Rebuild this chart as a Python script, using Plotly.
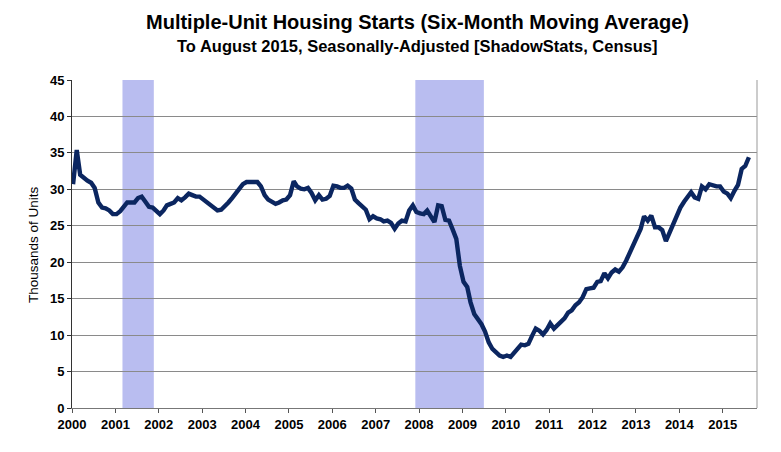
import plotly.graph_objects as go
import pandas as pd

# Monthly values, Jan 2000 .. Aug 2015 (thousands of units)
v2000 = [30.7, 35.4, 32.0, 31.5, 31.2, 30.9, 30.2, 28.2, 27.5, 27.4, 27.1, 26.6]
v2001 = [26.6, 27.0, 27.7, 28.2, 28.2, 28.2, 28.8, 29.0, 28.3, 27.6, 27.5, 27.0]
v2002 = [26.6, 27.1, 27.8, 28.0, 28.2, 28.8, 28.5, 28.9, 29.4, 29.2, 29.0, 29.0]
v2003 = [28.6, 28.3, 27.8, 27.4, 27.1, 27.2, 27.8, 28.2, 28.8, 29.4, 30.1, 30.7]
v2004 = [31.0, 31.0, 31.1, 31.0, 30.4, 29.2, 28.6, 28.3, 28.0, 28.2, 28.5, 28.6]
v2005 = [29.2, 31.1, 30.4, 30.1, 30.0, 30.2, 29.5, 28.5, 29.2, 28.6, 28.7, 29.1]
v2006 = [30.5, 30.4, 30.2, 30.2, 30.5, 30.1, 28.6, 28.1, 27.6, 27.2, 25.9, 26.3]
v2007 = [26.0, 25.9, 25.6, 25.7, 25.4, 24.6, 25.3, 25.7, 25.6, 27.1, 27.8, 26.9]
v2008 = [26.7, 26.6, 27.1, 26.4, 25.5, 27.8, 27.7, 25.8, 25.7, 24.5, 23.2, 19.5]
v2009 = [17.3, 16.6, 14.5, 12.9, 12.3, 11.5, 10.5, 9.0, 8.1, 7.6, 7.2, 7.0]
v2010 = [7.2, 7.0, 7.5, 8.2, 8.7, 8.6, 8.8, 9.9, 10.9, 10.6, 10.1, 10.7]
v2011 = [11.6, 10.9, 11.3, 11.7, 12.3, 13.1, 13.4, 14.1, 14.5, 15.2, 16.3, 16.4]
v2012 = [16.5, 17.3, 17.4, 18.5, 17.8, 18.6, 19.0, 18.7, 19.3, 20.2, 21.3, 22.4]
v2013 = [23.2, 24.6, 26.3, 25.7, 26.4, 24.8, 24.8, 24.4, 22.9, 24.1, 25.2, 26.5]
v2014 = [27.5, 28.3, 29.0, 29.6, 28.9, 28.7, 30.4, 30.0, 30.7, 30.5, 30.4, 30.4]
v2015 = [29.7, 29.4, 28.8, 29.8, 30.6, 32.8, 33.2, 34.4]

values = (v2000 + v2001 + v2002 + v2003 + v2004 + v2005 + v2006 + v2007 +
          v2008 + v2009 + v2010 + v2011 + v2012 + v2013 + v2014 + v2015)
dates = pd.date_range("2000-01-01", periods=len(values), freq="MS") + pd.Timedelta(days=9)

recessions = [("2001-03-01", "2001-11-20"), ("2007-12-01", "2009-06-30")]
y_ticks = [0, 5, 10, 15, 20, 25, 30, 35, 40, 45]

title = "Multiple-Unit Housing Starts (Six-Month Moving Average)"
subtitle = "To August 2015, Seasonally-Adjusted [ShadowStats, Census]"
y_title = "Thousands of Units"

FONT = "Liberation Sans, Arial, sans-serif"

fig = go.Figure()
fig.add_trace(go.Scatter(
    x=dates, y=values, mode="lines",
    line=dict(color="#0b2660", width=4.4),
    hoverinfo="skip", showlegend=False,
))

for x0, x1 in recessions:
    fig.add_shape(type="rect", xref="x", yref="y", x0=x0, x1=x1, y0=0, y1=45,
                  fillcolor="#b9bdf0", line=dict(width=0), layer="below")

fig.update_layout(
    width=781, height=452,
    margin=dict(l=64, r=32, t=72, b=52),
    paper_bgcolor="white", plot_bgcolor="white",
    font=dict(family=FONT, color="black"),
    xaxis=dict(
        type="date", range=["2000-01-01", "2015-10-17"],
        dtick="M12", tick0="2000-01-01", tickformat="%Y",
        ticks="outside", ticklen=4, tickcolor="#555",
        showgrid=False, showline=True, linecolor="#777", linewidth=1,
        mirror=False, zeroline=False, automargin=False,
        tickfont=dict(size=13, family=FONT, weight="bold"),
    ),
    yaxis=dict(
        range=[0, 45], tickvals=y_ticks,
        ticks="outside", ticklen=4, tickcolor="#333",
        showgrid=True, gridcolor="#8a8a8a", gridwidth=1,
        showline=True, linecolor="#333", linewidth=1, zeroline=False,
        automargin=False,
        tickfont=dict(size=13, family=FONT, weight="bold"),
    ),
    annotations=[
        dict(text="<b>" + title + "</b>", xref="paper", yref="paper",
             x=0.504, y=1.177, xanchor="center", yanchor="middle",
             showarrow=False, font=dict(size=20, family=FONT, color="black")),
        dict(text="<b>" + subtitle + "</b>", xref="paper", yref="paper",
             x=0.504, y=1.104, xanchor="center", yanchor="middle",
             showarrow=False, font=dict(size=16.5, family=FONT, color="black")),
        dict(text=y_title, xref="paper", yref="paper",
             x=-0.057, y=0.5, xanchor="center", yanchor="middle", textangle=-90,
             showarrow=False, font=dict(size=13.5, family=FONT, color="black")),
    ],
)
# right border of the plot area
fig.add_shape(type="line", xref="paper", yref="paper", x0=1, x1=1, y0=0, y1=1,
              line=dict(color="#999", width=1))

fig.write_html("out.html")
